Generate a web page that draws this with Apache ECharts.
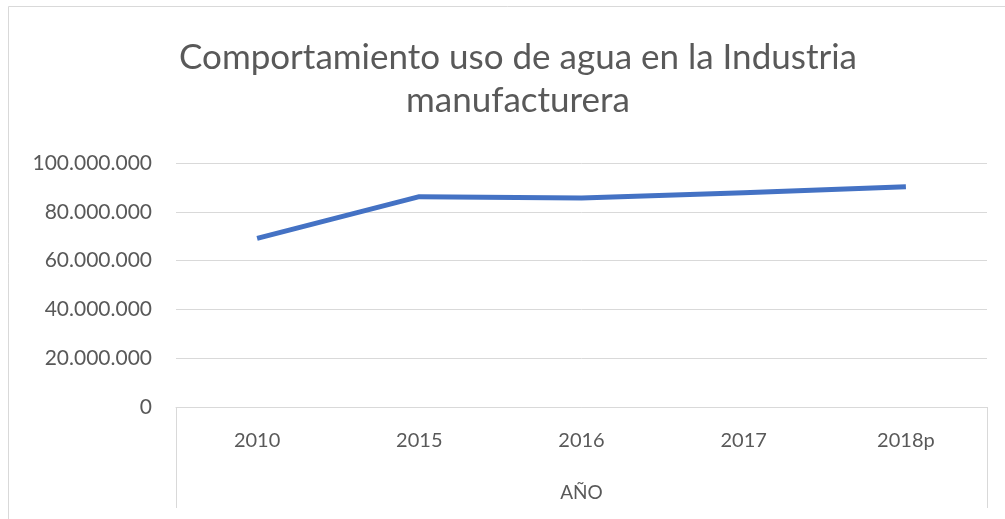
<!DOCTYPE html>
<html>
<head>
<meta charset="utf-8">
<script src="https://cdn.jsdelivr.net/npm/echarts@6/dist/echarts.min.js"></script>
<style>
  html, body { margin: 0; padding: 0; background: #fff; }
  #chart { width: 1005px; height: 519px; }
</style>
</head>
<body>
<div id="chart"></div>
<script>
// datos
const years = ['2010', '2015', '2016', '2017', '2018p'];
const usoAgua = [69100000, 86200000, 85700000, 87800000, 90300000];

const textColor = '#595959';
const lineGrey = '#d9d9d9';
const font = 'Lato';

// 100000000 -> 100.000.000
function fmtMiles(v) {
  return String(v).replace(/\B(?=(\d{3})+(?!\d))/g, '.');
}

const chart = echarts.init(document.getElementById('chart'));
chart.setOption({
  backgroundColor: '#fff',
  animation: false,
  title: {
    text: 'Comportamiento uso de agua en la Industria\nmanufacturera',
    left: 513,
    top: 31,
    textAlign: 'center',
    textStyle: {
      color: textColor,
      fontFamily: font,
      fontWeight: 'normal',
      fontSize: 35,
      lineHeight: 43
    }
  },
  graphic: [{
    // borde exterior del área del gráfico
    type: 'rect',
    shape: { x: 8.5, y: 6.5, width: 1200, height: 800 },
    style: { fill: 'none', stroke: lineGrey, lineWidth: 1 },
    silent: true
  }],
  grid: {
    left: 176,
    right: 18,
    top: 163,
    bottom: 112
  },
  xAxis: {
    type: 'category',
    data: years,
    boundaryGap: true,
    name: 'AÑO',
    nameLocation: 'middle',
    nameGap: 76,
    nameTextStyle: { color: textColor, fontFamily: font, fontSize: 19 },
    axisLine: { show: true, lineStyle: { color: lineGrey, width: 1 } },
    axisTick: {
      show: true,
      length: 101,
      interval: function (index) { return index === 0; },
      lineStyle: { color: lineGrey, width: 1 }
    },
    axisLabel: {
      color: textColor,
      fontFamily: font,
      fontSize: 20,
      margin: 24
    },
    splitLine: { show: false }
  },
  yAxis: {
    type: 'value',
    min: 0,
    max: 100000000,
    interval: 20000000,
    axisLine: { show: false },
    axisTick: { show: false },
    axisLabel: {
      color: textColor,
      fontFamily: font,
      fontSize: 21,
      margin: 24,
      formatter: fmtMiles
    },
    splitLine: { lineStyle: { color: lineGrey, width: 1 } }
  },
  series: [{
    type: 'line',
    data: usoAgua,
    symbol: 'none',
    lineStyle: { color: '#4472C4', width: 5, cap: 'butt', join: 'round' }
  }]
});
</script>
</body>
</html>
